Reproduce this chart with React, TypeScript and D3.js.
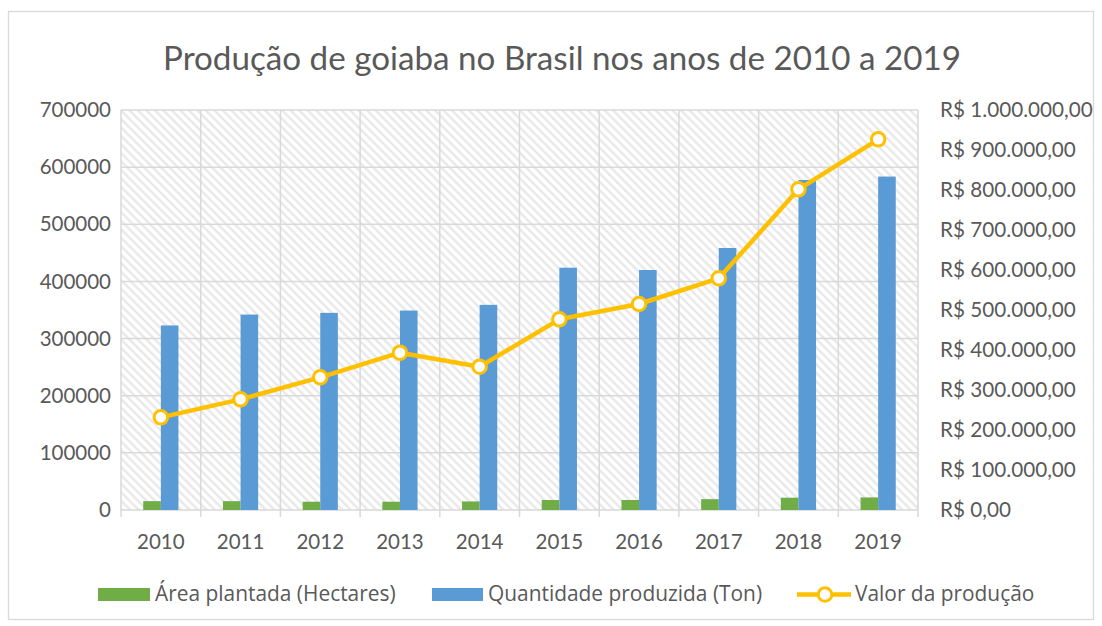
import React from "react";
import * as d3 from "d3";

const years = ["2010", "2011", "2012", "2013", "2014", "2015", "2016", "2017", "2018", "2019"];
const areaPlantada = [15500, 15500, 14500, 14500, 15000, 17500, 17500, 19000, 21500, 22000];
const quantidade = [323000, 342000, 345000, 349000, 359000, 424000, 420000, 458500, 577500, 583500];
const valor = [231700, 276700, 331700, 393300, 358300, 476700, 515000, 579200, 801700, 926700];
const leftTicks = [0, 100000, 200000, 300000, 400000, 500000, 600000, 700000];
const rightTicks = [0, 100000, 200000, 300000, 400000, 500000, 600000, 700000, 800000, 900000, 1000000];

const title = "Produção de goiaba no Brasil nos anos de 2010 a 2019";
const legendLabels = ["Área plantada (Hectares)", "Quantidade produzida (Ton)", "Valor da produção"];

const GREEN = "#70AD47";
const BLUE = "#5B9BD5";
const GOLD = "#FFC000";
const TEXT = "#595959";
const GRID = "#d9d9d9";
const FONT = "Lato, 'Open Sans', sans-serif";
const LEGEND_FONT = "'Open Sans', Lato, sans-serif";

const brl = d3.formatLocale({ decimal: ",", thousands: ".", grouping: [3], currency: ["R$ ", ""] });
const fmtRight = brl.format("$,.2f");
const fmtLeft = d3.format("d");

export default function App() {
  const W = 1102, H = 626;
  const plot = { left: 121, right: 918, top: 110, bottom: 510 };

  const x = d3.scaleBand<string>().domain(years).range([plot.left, plot.right]).paddingInner(0).paddingOuter(0);
  const yL = d3.scaleLinear().domain([0, 700000]).range([plot.bottom, plot.top]);
  const yR = d3.scaleLinear().domain([0, 1000000]).range([plot.bottom, plot.top]);
  const barW = 17.6;

  const line = d3
    .line<number>()
    .x((_, i) => (x(years[i]) as number) + x.bandwidth() / 2)
    .y((d) => yR(d));

  const boundaries = years.map((y) => x(y) as number).concat([plot.right]);

  return (
    <svg width={W} height={H} style={{ position: "absolute", left: 0, top: 0, display: "block" }} fontFamily={FONT}>
      <defs>
        <pattern id="hatch" patternUnits="userSpaceOnUse" width={6} height={6} patternTransform="rotate(-45)">
          <rect width={6} height={6} fill="#ffffff" />
          <line x1={1.5} y1={0} x2={1.5} y2={6} stroke="#e4e4e4" strokeWidth={2} />
        </pattern>
      </defs>
      <rect x={0} y={0} width={W} height={H} fill="#fff" />
      <rect x={8.5} y={11.5} width={1085} height={608} fill="#fff" stroke={GRID} strokeWidth={1.3} />

      <text x={562} y={70} textAnchor="middle" fontSize={33.2} fill={TEXT}>
        {title}
      </text>

      {/* plot area */}
      <rect x={plot.left} y={plot.top} width={plot.right - plot.left} height={plot.bottom - plot.top} fill="url(#hatch)" />

      {/* horizontal gridlines */}
      {leftTicks.map((t) => (
        <line key={"h" + t} x1={plot.left} x2={plot.right} y1={yL(t)} y2={yL(t)} stroke={GRID} strokeWidth={1.5} />
      ))}
      {/* vertical gridlines + ticks */}
      {boundaries.map((b, i) => (
        <line key={"v" + i} x1={b} x2={b} y1={plot.top} y2={plot.bottom + 7} stroke={GRID} strokeWidth={1.5} />
      ))}

      {/* bars */}
      {years.map((yr, i) => {
        const cx = (x(yr) as number) + x.bandwidth() / 2;
        return (
          <g key={"b" + yr}>
            <rect x={cx - barW} y={yL(areaPlantada[i])} width={barW} height={plot.bottom - yL(areaPlantada[i])} fill={GREEN} />
            <rect x={cx} y={yL(quantidade[i])} width={barW} height={plot.bottom - yL(quantidade[i])} fill={BLUE} />
          </g>
        );
      })}

      {/* line */}
      <path d={line(valor) || ""} fill="none" stroke={GOLD} strokeWidth={4.5} strokeLinejoin="round" />
      {valor.map((v, i) => (
        <circle
          key={"m" + i}
          cx={(x(years[i]) as number) + x.bandwidth() / 2}
          cy={yR(v)}
          r={6.8}
          fill="#fff"
          stroke={GOLD}
          strokeWidth={3}
        />
      ))}

      {/* left axis labels */}
      {leftTicks.map((t) => (
        <text key={"l" + t} x={111} y={yL(t)} dy="0.35em" textAnchor="end" fontSize={20.5} fill={TEXT}>
          {fmtLeft(t)}
        </text>
      ))}
      {/* right axis labels */}
      {rightTicks.map((t) => (
        <text key={"r" + t} x={940} y={yR(t)} dy="0.35em" textAnchor="start" fontSize={20.7} fill={TEXT}>
          {fmtRight(t)}
        </text>
      ))}
      {/* x labels */}
      {years.map((yr) => (
        <text key={"x" + yr} x={(x(yr) as number) + x.bandwidth() / 2} y={549} textAnchor="middle" fontSize={20.5} fill={TEXT}>
          {yr}
        </text>
      ))}

      {/* legend */}
      <g fontFamily={LEGEND_FONT} fontSize={20.9} fill={TEXT}>
        <rect x={98} y={588} width={52} height={13} fill={GREEN} />
        <text x={155} y={601}>
          {legendLabels[0]}
        </text>
        <rect x={432} y={588} width={51} height={13} fill={BLUE} />
        <text x={488} y={601}>
          {legendLabels[1]}
        </text>
        <line x1={797} x2={851} y1={594.5} y2={594.5} stroke={GOLD} strokeWidth={4.5} />
        <circle cx={825} cy={594.5} r={6.8} fill="#fff" stroke={GOLD} strokeWidth={3} />
        <text x={855} y={601}>
          {legendLabels[2]}
        </text>
      </g>
    </svg>
  );
}
